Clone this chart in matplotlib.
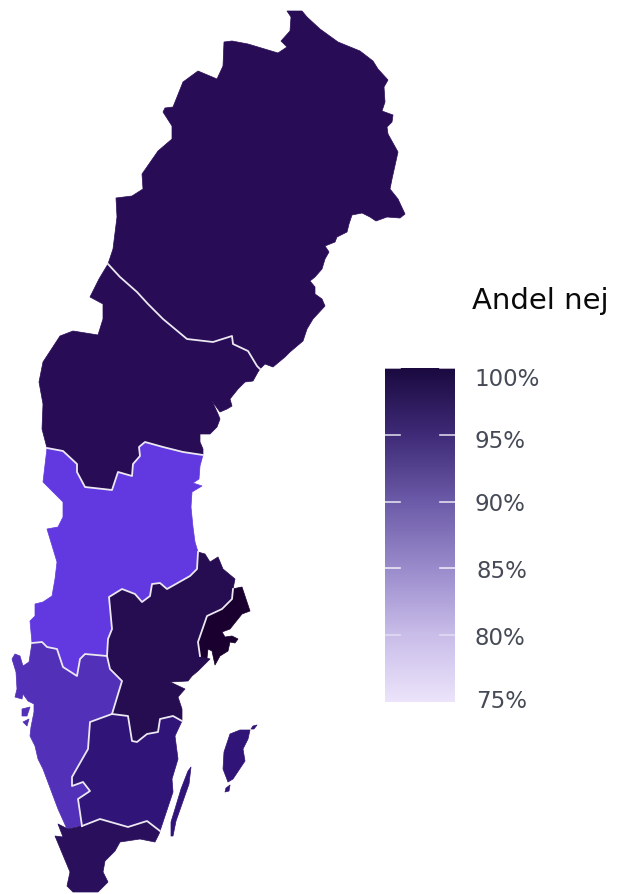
import matplotlib
matplotlib.use("Agg")
import matplotlib.pyplot as plt
from matplotlib.colors import LinearSegmentedColormap
import numpy as np

# Borders shared by two regions
BORDER_OVRE_MELLERSTA = [
    (108, 265), (120, 278), (137, 293), (148, 305), (163, 320), (187, 340), (213, 343), (232, 337),
    (233, 345), (248, 352), (257, 367), (260, 370),
]
BORDER_MELLERSTA_NORRA = [
    (203, 456), (183, 453), (163, 448), (145, 443), (139, 448), (140, 457), (133, 465), (132, 477),
    (118, 473), (112, 491), (85, 488), (77, 473), (77, 465), (63, 452), (47, 449),
]
BORDER_NORRA_VAST = [
    (32, 644), (42, 643), (47, 648), (57, 650), (63, 668), (77, 677), (80, 660), (85, 655), (107, 657),
]
BORDER_NORRA_OSTRA = [
    (107, 657), (108, 640), (112, 630), (109, 598), (122, 590), (135, 595), (142, 603), (150, 597),
    (152, 585), (160, 584), (167, 590), (190, 577), (197, 570), (198, 553),
]
BORDER_VAST_OSTRA = [(107, 657), (110, 670), (122, 682), (112, 715)]
BORDER_OSTRA_SMALAND = [
    (112, 715), (128, 717), (132, 742), (137, 743), (147, 735), (158, 733), (160, 720), (173, 717),
    (182, 722),
]
BORDER_VAST_SMALAND = [
    (112, 715), (90, 723), (88, 750), (72, 778), (72, 787), (83, 783), (90, 792), (78, 800), (82, 827),
]
BORDER_SMALAND_SYD = [(82, 827), (100, 820), (128, 828), (147, 822), (160, 832)]
BORDER_OSTRA_STOCKHOLM = [(233, 590), (232, 600), (222, 610), (207, 617), (198, 643), (200, 657)]

# Coast stretches
COAST_OVRE = [
    (260, 370), (265, 365), (273, 368), (285, 358), (290, 353), (303, 342), (307, 330), (313, 320),
    (325, 307), (322, 300), (315, 295), (315, 288), (310, 282), (315, 278), (322, 270), (325, 260),
    (329, 253), (325, 247), (335, 243), (337, 238), (347, 233), (349, 225), (352, 216), (362, 214),
    (370, 218), (376, 222), (387, 218), (400, 219), (405, 215), (398, 200), (390, 190), (392, 180),
    (398, 153), (388, 135), (387, 128), (392, 123), (393, 116), (382, 112), (385, 103), (384, 88),
    (388, 81), (378, 70), (373, 62), (360, 52), (338, 43), (320, 30), (307, 18), (302, 12), (287, 12),
    (291, 18), (290, 32), (281, 42), (287, 48), (278, 54), (248, 45), (232, 42), (224, 43), (223, 67),
    (217, 80), (198, 72), (183, 83), (173, 108), (165, 109), (163, 113), (172, 127), (172, 140),
    (158, 152), (142, 175), (143, 190), (132, 197), (116, 199), (117, 218), (113, 250),
]
COAST_MELLERSTA_EAST = [
    (258, 373), (253, 382), (245, 383), (238, 390), (230, 400), (232, 407), (227, 410), (220, 413),
    (212, 402), (218, 415), (220, 420), (217, 428), (210, 435), (200, 435), (200, 443), (203, 450),
]
COAST_MELLERSTA_WEST = [
    (42, 430), (43, 405), (39, 383), (43, 363), (60, 337), (73, 332), (98, 336), (103, 320), (103, 305),
    (90, 298), (99, 280),
]
COAST_NORRA_EAST = [
    (198, 553), (195, 543), (193, 528), (191, 508), (192, 493), (202, 487), (193, 484), (199, 480),
    (200, 467),
]
COAST_NORRA_WEST = [
    (43, 483), (52, 492), (63, 503), (63, 518), (58, 528), (47, 530), (57, 563), (55, 580), (52, 597),
    (43, 603), (35, 605), (35, 617), (30, 622),
]
COAST_OSTRA_NORTH = [(198, 553), (205, 555), (210, 563), (218, 558), (223, 570), (235, 580)]
COAST_OSTRA_SOUTH = [
    (200, 657), (210, 660), (205, 665), (198, 672), (192, 677), (188, 682), (170, 683), (185, 690),
    (178, 698), (182, 710),
]
COAST_STOCKHOLM = [
    (237, 589), (242, 588), (250, 612), (242, 615), (230, 630), (222, 633), (225, 638), (232, 637),
    (238, 640), (235, 644), (230, 643), (228, 652), (220, 657), (215, 666), (212, 652), (208, 650),
    (207, 659),
]
COAST_VAST = [
    (75, 828), (67, 830), (58, 810), (43, 770), (38, 760), (35, 747), (30, 737), (31, 728), (34, 713),
    (34, 705), (28, 702), (23, 695), (22, 700), (15, 698), (17, 690), (16, 673), (12, 660), (15, 655),
    (20, 657), (23, 667), (29, 663),
]
COAST_SMALAND = [
    (182, 722), (175, 737), (178, 760), (172, 780), (173, 793), (165, 817), (160, 832),
]
COAST_SYD = [
    (160, 832), (159, 835), (155, 843), (140, 840), (120, 843), (115, 852), (105, 862), (103, 873),
    (108, 883), (98, 893), (73, 893), (67, 887), (70, 873), (55, 837), (63, 838), (58, 825), (68, 830),
]

OVRE_NORRLAND = COAST_OVRE + BORDER_OVRE_MELLERSTA
MELLERSTA_NORRLAND = (
    BORDER_OVRE_MELLERSTA + COAST_MELLERSTA_EAST + BORDER_MELLERSTA_NORRA + COAST_MELLERSTA_WEST
)
NORRA_MELLANSVERIGE = (
    BORDER_MELLERSTA_NORRA[::-1] + COAST_NORRA_EAST[::-1] + BORDER_NORRA_OSTRA[::-1]
    + BORDER_NORRA_VAST[::-1] + COAST_NORRA_WEST[::-1]
)
OSTRA_MELLANSVERIGE = (
    COAST_OSTRA_NORTH + BORDER_OSTRA_STOCKHOLM + COAST_OSTRA_SOUTH
    + BORDER_OSTRA_SMALAND[::-1] + BORDER_VAST_OSTRA[::-1] + BORDER_NORRA_OSTRA
)
STOCKHOLM = COAST_STOCKHOLM + BORDER_OSTRA_STOCKHOLM[::-1]
VASTSVERIGE = BORDER_NORRA_VAST + BORDER_VAST_OSTRA + BORDER_VAST_SMALAND + COAST_VAST
SMALAND = BORDER_OSTRA_SMALAND + COAST_SMALAND + BORDER_SMALAND_SYD[::-1] + BORDER_VAST_SMALAND[::-1]
SYDSVERIGE = BORDER_SMALAND_SYD + COAST_SYD

OLAND = [
    (191, 768), (189, 785), (182, 805), (176, 822), (173, 837), (171, 837), (171, 823), (175, 810),
    (181, 790), (188, 772),
]
GOTLAND = [
    (250, 731), (248, 740), (243, 750), (245, 762), (233, 780), (228, 783), (223, 770), (224, 753),
    (230, 735), (240, 731),
]
GOTLAND_SOUTH = [(230, 786), (229, 792), (225, 793), (226, 789)]
FARO = [(257, 726), (254, 730), (251, 730), (253, 727)]
VAST_ISLAND_1 = [(22, 710), (30, 708), (27, 717), (22, 717)]
VAST_ISLAND_2 = [(23, 723), (29, 720), (27, 727)]

REGIONS = [
    (OVRE_NORRLAND, "#290c56"),
    (MELLERSTA_NORRLAND, "#290c56"),
    (NORRA_MELLANSVERIGE, "#6238e0"),
    (OSTRA_MELLANSVERIGE, "#260c50"),
    (STOCKHOLM, "#19002f"),
    (VASTSVERIGE, "#5330b8"),
    (VAST_ISLAND_1, "#5330b8"),
    (VAST_ISLAND_2, "#5330b8"),
    (SMALAND, "#311478"),
    (OLAND, "#311478"),
    (GOTLAND, "#311478"),
    (GOTLAND_SOUTH, "#311478"),
    (FARO, "#311478"),
    (SYDSVERIGE, "#2a0f5c"),
]
BORDERS = [
    BORDER_OVRE_MELLERSTA, BORDER_MELLERSTA_NORRA, BORDER_NORRA_VAST, BORDER_NORRA_OSTRA,
    BORDER_VAST_OSTRA, BORDER_OSTRA_SMALAND, BORDER_VAST_SMALAND, BORDER_SMALAND_SYD,
    BORDER_OSTRA_STOCKHOLM,
]

SCALE_TICKS = [75, 80, 85, 90, 95, 100]
SCALE_LABELS = ["75%", "80%", "85%", "90%", "95%", "100%"]
SCALE_COLORS = ["#ece4fb", "#c9bde9", "#9a8bcc", "#6c5ba8", "#3f2b78", "#1a0a40"]
# Labels in the picture sit a little off their ticks (pixels right, pixels down)
LABEL_NUDGE_X = [21, 19, 21, 20, 20, 19]
LABEL_NUDGE_Y = [-1, 2, 2, 2, 6, 11]


def main():
    fig = plt.figure(figsize=(6.2, 8.95), dpi=100)
    ax = fig.add_axes([0, 0, 1, 1])
    ax.set_xlim(0, 620)
    ax.set_ylim(895, 0)
    ax.axis("off")

    for outline, color in REGIONS:
        xs, ys = zip(*outline)
        ax.fill(xs, ys, facecolor=color, edgecolor=color, linewidth=0.5, joinstyle="round")

    for border in BORDERS:
        xs, ys = zip(*border)
        ax.plot(xs, ys, color="#ebe8f1", linewidth=1.3, solid_joinstyle="round")

    # Colour scale, pixel box 385..455 x 369..703
    cax = fig.add_axes([385 / 620, 1 - 703 / 895, 70 / 620, 334 / 895])
    cmap = LinearSegmentedColormap.from_list("nej", SCALE_COLORS)
    gradient = np.linspace(0, 1, 256).reshape(-1, 1)
    cax.imshow(gradient, cmap=cmap, aspect="auto", origin="lower", extent=[0, 1, 75, 100])
    cax.set_xlim(0, 1)
    cax.set_ylim(75, 100)
    cax.set_xticks([])
    cax.set_yticks([])
    for spine in cax.spines.values():
        spine.set_visible(False)

    for value, label, dx, dy in zip(SCALE_TICKS, SCALE_LABELS, LABEL_NUDGE_X, LABEL_NUDGE_Y):
        cax.annotate(
            label,
            xy=(1, value),
            xycoords=("axes fraction", "data"),
            xytext=(dx, -dy),
            textcoords="offset pixels",
            fontsize=16.5,
            color="#454a56",
            va="center",
            ha="left",
            annotation_clip=False,
        )

    for value in SCALE_TICKS[1:]:
        alpha = 0.45 if value == 80 else 0.8
        cax.plot([0, 0.21], [value, value], color="white", lw=1.2, alpha=alpha, clip_on=False)
        cax.plot([0.79, 1], [value, value], color="white", lw=1.2, alpha=alpha, clip_on=False)

    ax.text(472, 301, "Andel nej", fontsize=21, color="#0a0a0a", va="center", ha="left")

    fig.savefig("out.png", dpi=100)


if __name__ == "__main__":
    main()
